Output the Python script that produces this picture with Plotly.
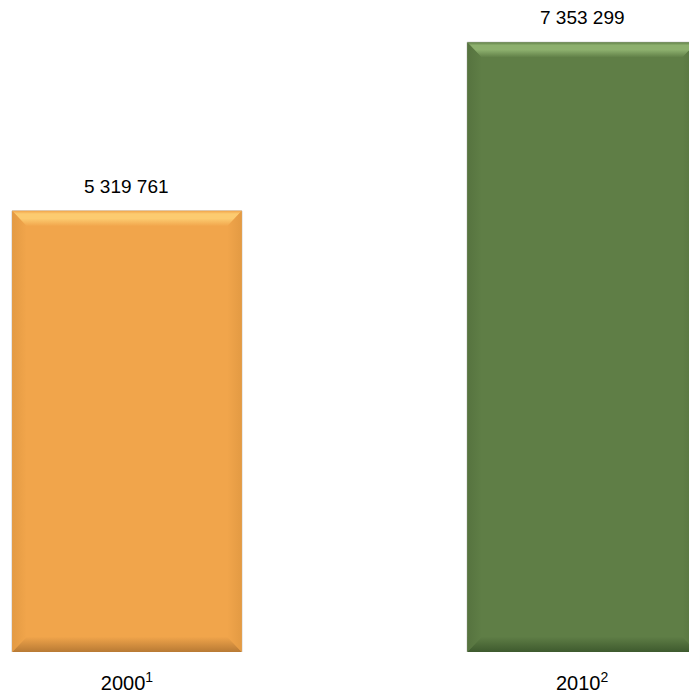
import plotly.graph_objects as go

categories = ["2000<sup>1</sup>", "2010<sup>2</sup>"]
values = [5319761, 7353299]
value_labels = ["5 319 761", "7 353 299"]
main_colors = ["#F1A54B", "#5F7E46"]
light_colors = ["#FCCB70", "#8DB06E"]
dark_colors = ["#B87A34", "#3E5A2E"]
side_colors = ["#E39A43", "#56733F"]

x_pos = list(range(len(categories)))
BAR_W = 0.505
HW = BAR_W / 2
DX = 0.032         # bevel width in x units
DY = 185000        # bevel height in y units

fig = go.Figure()
fig.add_trace(go.Bar(
    x=x_pos, y=values, width=BAR_W,
    marker=dict(color=main_colors, line=dict(color="#C8C8C8", width=1)),
    hoverinfo="skip", showlegend=False,
))

def poly(xs, ys, scale, gtype):
    fig.add_trace(go.Scatter(
        x=xs + [xs[0]], y=ys + [ys[0]], mode="lines", fill="toself",
        line=dict(width=0), fillgradient=dict(type=gtype, colorscale=scale),
        hoverinfo="skip", showlegend=False,
    ))

for i, v in enumerate(values):
    xl, xr = x_pos[i] - HW, x_pos[i] + HW
    m, lc, dc, sc = main_colors[i], light_colors[i], dark_colors[i], side_colors[i]
    # top bevel (gradient: main at bottom -> light highlight -> main at top)
    poly([xl, xr, xr - DX, xl + DX], [v, v, v - DY, v - DY],
         [[0, m], [0.5, lc], [0.8, lc], [1, m]], "vertical")
    # bottom bevel (dark at bottom)
    poly([xl, xr, xr - DX, xl + DX], [0, 0, DY, DY],
         [[0, dc], [1, m]], "vertical")
    # left bevel
    poly([xl, xl + DX, xl + DX, xl], [0, DY, v - DY, v],
         [[0, sc], [1, m]], "horizontal")
    # right bevel
    poly([xr, xr - DX, xr - DX, xr], [0, DY, v - DY, v],
         [[0, m], [1, sc]], "horizontal")

for i, v in enumerate(values):
    fig.add_annotation(x=x_pos[i], y=v, text=value_labels[i], showarrow=False,
                       yanchor="bottom", yshift=12,
                       font=dict(family="Liberation Sans, Arial", size=19, color="#000000"))

fig.update_layout(
    width=689, height=695,
    margin=dict(l=0, r=0, t=0, b=43),
    plot_bgcolor="white", paper_bgcolor="white",
    xaxis=dict(range=[-0.279, 1.235], tickmode="array", tickvals=x_pos, ticktext=categories,
               showgrid=False, zeroline=False, showline=False, ticks="",
               ticklabelstandoff=17,
               tickfont=dict(family="Liberation Sans, Arial", size=20, color="#000000")),
    yaxis=dict(range=[0, 7.862e6], visible=False, showgrid=False, zeroline=False),
    showlegend=False,
)

fig.write_html("out.html", config={"displayModeBar": False},
               post_script="document.body.style.margin='0';document.body.style.overflow='hidden';")
